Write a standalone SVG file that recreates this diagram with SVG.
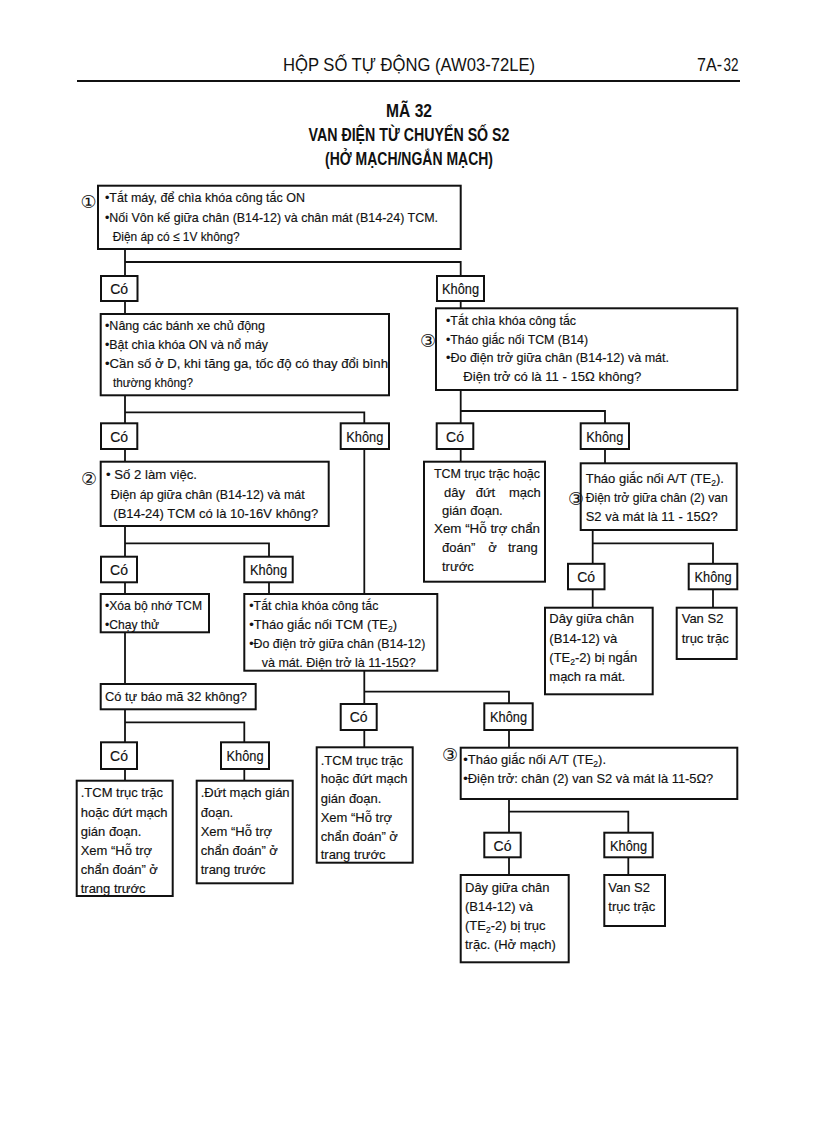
<svg xmlns="http://www.w3.org/2000/svg" width="816" height="1123" viewBox="0 0 816 1123">
<style>
.b{fill:#fff;stroke:#111;stroke-width:2}
.t{font-family:"Liberation Sans",Arial,sans-serif;font-size:13px;fill:#111;stroke:#111;stroke-width:0.15}
.lb{font-family:"Liberation Sans",Arial,sans-serif;font-size:14px;fill:#111;stroke:#111;stroke-width:0.15;text-anchor:middle}
.n{font-family:"DejaVu Sans","Noto Sans CJK JP",sans-serif;font-size:18px;fill:#111;text-anchor:middle}
.h{font-family:"Liberation Sans",Arial,sans-serif;font-size:18px;fill:#111}
.ti{font-family:"Liberation Sans",Arial,sans-serif;font-size:18px;font-weight:bold;fill:#111;text-anchor:middle}
.c{fill:none;stroke:#111;stroke-width:1.8}
</style>
<rect x="0" y="0" width="816" height="1123" fill="#fff"/>
<g id="header">
<text class="h" x="283" y="71" textLength="252" lengthAdjust="spacingAndGlyphs">HỘP SỐ TỰ ĐỘNG (AW03-72LE)</text>
<text class="h" x="697" y="71" textLength="25" lengthAdjust="spacingAndGlyphs">7A-</text>
<text class="h" x="723.5" y="71" font-family="Liberation Serif,serif" textLength="15" lengthAdjust="spacingAndGlyphs">32</text>
<line x1="77" y1="81" x2="740" y2="81" stroke="#111" stroke-width="2"/>
</g>
<g id="title">
<text class="ti" x="409" y="117" textLength="46" lengthAdjust="spacingAndGlyphs">MÃ 32</text>
<text class="ti" x="409" y="141" textLength="201" lengthAdjust="spacingAndGlyphs">VAN ĐIỆN TỪ CHUYỂN SỐ S2</text>
<text class="ti" x="409" y="165" textLength="168" lengthAdjust="spacingAndGlyphs">(HỞ MẠCH/NGẮN MẠCH)</text>
</g>
<g id="connectors">
<path class="c" d="M125 249V276M125 262H460.7V276"/>
<path class="c" d="M125 301V314"/>
<path class="c" d="M460.7 301V308.3"/>
<path class="c" d="M125 395V423.3M125 412.3H364.3V423.3"/>
<path class="c" d="M125 449V461.7"/>
<path class="c" d="M364.3 449V594"/>
<path class="c" d="M125 526V556.7M125 543.3H269V556.7"/>
<path class="c" d="M125 582.3V594"/>
<path class="c" d="M269 582.3V594"/>
<path class="c" d="M125 632.3V684"/>
<path class="c" d="M125 709.3V742.3M125 722.3H244.3V742.3"/>
<path class="c" d="M125 769V780.7"/>
<path class="c" d="M244.3 769V780.7"/>
<path class="c" d="M364.3 670.7V704M364.3 691.7H509V703.3"/>
<path class="c" d="M364.3 730V747.3"/>
<path class="c" d="M509 730V747.7"/>
<path class="c" d="M509 799V832.7M509 811.7H628.3V832.7"/>
<path class="c" d="M509 857.3V875"/>
<path class="c" d="M628.3 857.3V875"/>
<path class="c" d="M460.7 390V423.3M460.7 411H605V423.3"/>
<path class="c" d="M460.7 449V461.7"/>
<path class="c" d="M605 449V463.3"/>
<path class="c" d="M592.7 530V563.8M592.7 543.3H713V563.8"/>
<path class="c" d="M592.7 589.3V607.7"/>
<path class="c" d="M713 589.3V607.7"/>
</g>
<g id="n1">
<rect class="b" x="98" y="185.7" width="362.7" height="63.3"/>
<text class="n" x="88.5" y="207.5">①</text>
<text class="t" x="105" y="202" textLength="200" lengthAdjust="spacingAndGlyphs">•Tắt máy, để chìa khóa công tắc ON</text>
<text class="t" x="105" y="221.5" textLength="333" lengthAdjust="spacingAndGlyphs">•Nối Vôn kế giữa chân (B14-12) và chân mát (B14-24) TCM.</text>
<text class="t" x="112.7" y="240.5" textLength="127" lengthAdjust="spacingAndGlyphs">Điện áp có ≤ 1V không?</text>
</g>
<g id="co1"><rect class="b" x="101" y="276" width="36.5" height="25"/><text class="lb" x="119.2" y="294">Có</text></g>
<g id="khong1"><rect class="b" x="437" y="276" width="47" height="25"/><text class="lb" x="460.5" y="294" textLength="37" lengthAdjust="spacingAndGlyphs">Không</text></g>
<g id="n2">
<rect class="b" x="100.7" y="314" width="288.3" height="81.3"/>
<text class="t" x="105" y="329.5" textLength="160" lengthAdjust="spacingAndGlyphs">•Nâng các bánh xe chủ động</text>
<text class="t" x="105" y="348.5" textLength="163" lengthAdjust="spacingAndGlyphs">•Bật chìa khóa ON và nổ máy</text>
<text class="t" x="105" y="367.5" textLength="283" lengthAdjust="spacingAndGlyphs">•Cần số ở D, khi tăng ga, tốc độ có thay đổi bình</text>
<text class="t" x="113" y="387" textLength="80" lengthAdjust="spacingAndGlyphs">thường không?</text>
</g>
<g id="n3">
<rect class="b" x="436" y="308.3" width="301.3" height="81.7"/>
<text class="n" x="428" y="346.5">③</text>
<text class="t" x="446" y="324.5" textLength="130" lengthAdjust="spacingAndGlyphs">•Tắt chìa khóa công tắc</text>
<text class="t" x="446" y="343.5" textLength="142" lengthAdjust="spacingAndGlyphs">•Tháo giắc nối TCM (B14)</text>
<text class="t" x="446" y="362" textLength="223" lengthAdjust="spacingAndGlyphs">•Đo điện trở giữa chân (B14-12) và mát.</text>
<text class="t" x="463.3" y="381" textLength="178" lengthAdjust="spacingAndGlyphs">Điện trở có là 11 - 15Ω không?</text>
</g>
<g id="co2"><rect class="b" x="101" y="423.3" width="36.3" height="25.7"/><text class="lb" x="119.2" y="441.5">Có</text></g>
<g id="khong2"><rect class="b" x="340.7" y="423.3" width="48.3" height="25.7"/><text class="lb" x="364.8" y="441.5" textLength="37" lengthAdjust="spacingAndGlyphs">Không</text></g>
<g id="co7"><rect class="b" x="436.7" y="423.3" width="36.6" height="25.7"/><text class="lb" x="455" y="441.5">Có</text></g>
<g id="khong7"><rect class="b" x="580.7" y="423.3" width="48.3" height="25.7"/><text class="lb" x="604.8" y="441.5" textLength="37" lengthAdjust="spacingAndGlyphs">Không</text></g>
<g id="n4">
<rect class="b" x="100.7" y="461.7" width="228" height="64.3"/>
<text class="n" x="89" y="484.5">②</text>
<text class="t" x="106" y="479" textLength="91" lengthAdjust="spacingAndGlyphs">• Số 2 làm việc.</text>
<text class="t" x="110.7" y="498.5" textLength="194" lengthAdjust="spacingAndGlyphs">Điện áp giữa chân (B14-12) và mát</text>
<text class="t" x="113.3" y="517.7" textLength="205" lengthAdjust="spacingAndGlyphs">(B14-24) TCM có là 10-16V không?</text>
</g>
<g id="n5">
<rect class="b" x="424" y="461.7" width="121" height="120"/>
<text class="t" x="434" y="478.3" textLength="106" lengthAdjust="spacingAndGlyphs">TCM trục trặc hoặc</text>
<text class="t" y="496.7"><tspan x="444">dây</tspan><tspan x="475.7">đứt</tspan><tspan x="509">mạch</tspan></text>
<text class="t" x="442" y="515">gián đoạn.</text>
<text class="t" x="434" y="533.3" textLength="106" lengthAdjust="spacingAndGlyphs">Xem “Hỗ trợ chẩn</text>
<text class="t" y="552.3"><tspan x="442">đoán”</tspan><tspan x="488.3">ở</tspan><tspan x="508">trang</tspan></text>
<text class="t" x="442" y="571">trước</text>
</g>
<g id="n6">
<rect class="b" x="580.7" y="463.3" width="156" height="66.7"/>
<text class="n" x="576" y="504.5">③</text>
<text class="t" x="585.7" y="483.3">Tháo giắc nối A/T (TE<tspan font-size="8.5" dy="3">2</tspan><tspan dy="-3">).</tspan></text>
<text class="t" x="585.7" y="502.3" textLength="142" lengthAdjust="spacingAndGlyphs">Điện trở giữa chân (2) van</text>
<text class="t" x="585.7" y="520.7" textLength="132" lengthAdjust="spacingAndGlyphs">S2 và mát là 11 - 15Ω?</text>
</g>
<g id="co3"><rect class="b" x="101" y="556.7" width="36" height="25.6"/><text class="lb" x="119" y="574.7">Có</text></g>
<g id="khong3"><rect class="b" x="244.3" y="556.7" width="48.4" height="25.6"/><text class="lb" x="268.5" y="574.7" textLength="37" lengthAdjust="spacingAndGlyphs">Không</text></g>
<g id="co8"><rect class="b" x="568" y="563.8" width="36.5" height="25.5"/><text class="lb" x="586.2" y="581.8">Có</text></g>
<g id="khong8"><rect class="b" x="688.7" y="563.8" width="48.6" height="25.5"/><text class="lb" x="713" y="581.8" textLength="37" lengthAdjust="spacingAndGlyphs">Không</text></g>
<g id="n7">
<rect class="b" x="100.7" y="594" width="108.3" height="38.3"/>
<text class="t" x="105" y="609.5" textLength="97" lengthAdjust="spacingAndGlyphs">•Xóa bộ nhớ TCM</text>
<text class="t" x="105" y="628.5" textLength="54" lengthAdjust="spacingAndGlyphs">•Chạy thử</text>
</g>
<g id="n8">
<rect class="b" x="244.3" y="594" width="193" height="76.7"/>
<text class="t" x="249.3" y="609.5" textLength="129" lengthAdjust="spacingAndGlyphs">•Tắt chìa khóa công tắc</text>
<text class="t" x="249.3" y="629">•Tháo giắc nối TCM (TE<tspan font-size="8.5" dy="3">2</tspan><tspan dy="-3">)</tspan></text>
<text class="t" x="249.3" y="648.3" textLength="176" lengthAdjust="spacingAndGlyphs">•Đo điện trở giữa chân (B14-12)</text>
<text class="t" x="261.7" y="667.3" textLength="154" lengthAdjust="spacingAndGlyphs">và mát. Điện trở là 11-15Ω?</text>
</g>
<g id="n9">
<rect class="b" x="545" y="607.7" width="107.7" height="86.6"/>
<text class="t" x="549.3" y="623.3">Dây giữa chân</text>
<text class="t" x="549.3" y="642.7">(B14-12) và</text>
<text class="t" x="549.3" y="661.7">(TE<tspan font-size="8.5" dy="3">2</tspan><tspan dy="-3">-2) bị ngắn</tspan></text>
<text class="t" x="549.3" y="680.7">mạch ra mát.</text>
</g>
<g id="n10">
<rect class="b" x="676.7" y="607.7" width="60" height="51.3"/>
<text class="t" x="681.7" y="623.3">Van S2</text>
<text class="t" x="681.7" y="642.7">trục trặc</text>
</g>
<g id="n11">
<rect class="b" x="100.7" y="684" width="155" height="25.3"/>
<text class="t" x="105" y="700.7" textLength="142" lengthAdjust="spacingAndGlyphs">Có tự báo mã 32 không?</text>
</g>
<g id="co5"><rect class="b" x="340.7" y="704" width="36" height="26"/><text class="lb" x="358.7" y="722.3">Có</text></g>
<g id="khong5"><rect class="b" x="484.3" y="703.3" width="48.4" height="26.7"/><text class="lb" x="508.5" y="722" textLength="37" lengthAdjust="spacingAndGlyphs">Không</text></g>
<g id="co4"><rect class="b" x="101" y="742.3" width="36" height="26.7"/><text class="lb" x="119" y="760.7">Có</text></g>
<g id="khong4"><rect class="b" x="221" y="742.3" width="48" height="26.7"/><text class="lb" x="245" y="760.7" textLength="37" lengthAdjust="spacingAndGlyphs">Không</text></g>
<g id="n12">
<rect class="b" x="316.7" y="747.3" width="96" height="115.4"/>
<text class="t" x="320.7" y="765">.TCM trục trặc</text>
<text class="t" x="320.7" y="783.3">hoặc đứt mạch</text>
<text class="t" x="320.7" y="802.7">gián đoạn.</text>
<text class="t" x="320.7" y="821.7">Xem “Hỗ trợ</text>
<text class="t" x="320.7" y="840.7">chẩn đoán” ở</text>
<text class="t" x="320.7" y="859.3">trang trước</text>
</g>
<g id="n13">
<rect class="b" x="460.7" y="747.7" width="276.6" height="51.3"/>
<text class="n" x="450" y="761">③</text>
<text class="t" x="463.3" y="764">•Tháo giắc nối A/T (TE<tspan font-size="8.5" dy="3">2</tspan><tspan dy="-3">).</tspan></text>
<text class="t" x="463.3" y="783.3" textLength="250" lengthAdjust="spacingAndGlyphs">•Điện trở: chân (2) van S2 và mát là 11-5Ω?</text>
</g>
<g id="n14">
<rect class="b" x="76.7" y="780.7" width="96" height="115.3"/>
<text class="t" x="80.7" y="797.3">.TCM trục trặc</text>
<text class="t" x="80.7" y="816.7">hoặc đứt mạch</text>
<text class="t" x="80.7" y="835.7">gián đoạn.</text>
<text class="t" x="80.7" y="855">Xem “Hỗ trợ</text>
<text class="t" x="80.7" y="874">chẩn đoán” ở</text>
<text class="t" x="80.7" y="892.7">trang trước</text>
</g>
<g id="n15">
<rect class="b" x="196.7" y="780.7" width="96" height="102.6"/>
<text class="t" x="200.7" y="797.3">.Đứt mạch gián</text>
<text class="t" x="200.7" y="816.7">đoạn.</text>
<text class="t" x="200.7" y="835.7">Xem “Hỗ trợ</text>
<text class="t" x="200.7" y="855">chẩn đoán” ở</text>
<text class="t" x="200.7" y="874">trang trước</text>
</g>
<g id="co6"><rect class="b" x="484.3" y="832.7" width="36.4" height="24.6"/><text class="lb" x="502.5" y="850.5">Có</text></g>
<g id="khong6"><rect class="b" x="604.3" y="832.7" width="48.4" height="24.6"/><text class="lb" x="628.5" y="850.5" textLength="37" lengthAdjust="spacingAndGlyphs">Không</text></g>
<g id="n16">
<rect class="b" x="460.7" y="875" width="108" height="87.3"/>
<text class="t" x="465" y="891.7">Dây giữa chân</text>
<text class="t" x="465" y="911">(B14-12) và</text>
<text class="t" x="465" y="930">(TE<tspan font-size="8.5" dy="3">2</tspan><tspan dy="-3">-2) bị trục</tspan></text>
<text class="t" x="465" y="949">trặc. (Hở mạch)</text>
</g>
<g id="n17">
<rect class="b" x="604.3" y="875" width="60.7" height="51"/>
<text class="t" x="608.3" y="891.7">Van S2</text>
<text class="t" x="608.3" y="911">trục trặc</text>
</g>
</svg>
